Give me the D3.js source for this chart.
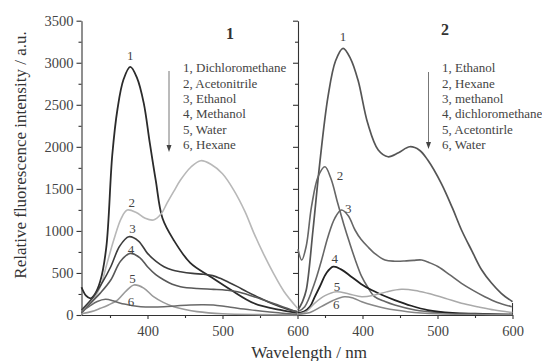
<!DOCTYPE html>
<html><head><meta charset="utf-8">
<script src="https://cdn.jsdelivr.net/npm/d3@7"></script>
<style>body{margin:0;background:#fff}svg{display:block}text{font-family:"Liberation Serif","Times New Roman",serif}</style>
</head><body><svg id="c" width="542" height="361"></svg>
<script>
// ---- Data ----
const yTicks = [0, 500, 1000, 1500, 2000, 2500, 3000, 3500];
const xTicks = [400, 500, 600];
const legend1 = ["1, Dichloromethane", "2, Acetonitrile", "3, Ethanol", "4, Methanol", "5, Water", "6, Hexane"];
const legend2 = ["1, Ethanol", "2, Hexane", "3, methanol", "4, dichloromethane", "5, Acetontirle", "6, Water"];

// Panel 1
const p1c1Wl = [312, 318, 324, 330, 337, 345, 353, 360, 368, 377, 386, 395, 403, 411, 420, 435, 457, 484, 511, 542, 577, 600];
const p1c1 =   [330, 230, 198, 250, 400, 800, 1900, 2450, 2800, 2950, 2820, 2520, 2050, 1600, 1150, 890, 620, 456, 300, 140, 60, 25];
const p1c2Wl = [312, 325, 337, 345, 355, 365, 373, 385, 397, 408, 418, 426, 435, 444, 458, 471, 485, 500, 515, 530, 542, 555, 568, 582, 600];
const p1c2 =   [60, 150, 336, 580, 892, 1150, 1248, 1220, 1150, 1130, 1200, 1330, 1470, 1605, 1760, 1835, 1790, 1680, 1486, 1230, 971, 720, 495, 280, 80];
const p1c3Wl = [312, 328, 340, 351, 363, 375, 388, 400, 411, 422, 433, 444, 460, 475, 487, 497, 508, 520, 533, 546, 561, 577, 590, 600];
const p1c3 =   [60, 218, 390, 574, 820, 931, 880, 733, 640, 574, 535, 515, 495, 484, 468, 436, 390, 337, 275, 218, 155, 99, 60, 40];
const p1c4Wl = [312, 324, 337, 351, 364, 377, 390, 400, 411, 422, 433, 444, 466, 488, 505, 520, 538, 555, 570, 586, 600];
const p1c4 =   [20, 139, 260, 416, 640, 733, 680, 574, 480, 416, 365, 337, 315, 305, 295, 277, 230, 178, 130, 79, 30];
const p1c5Wl = [312, 325, 337, 348, 360, 372, 382, 395, 408, 421, 435, 450, 466, 500, 550, 600];
const p1c5 =   [15, 40, 79, 120, 178, 290, 357, 320, 218, 150, 99, 65, 40, 15, 5, 2];
const p1c6Wl = [312, 322, 333, 344, 354, 364, 378, 391, 406, 422, 440, 457, 472, 488, 504, 520, 540, 560, 580, 600];
const p1c6 =   [40, 100, 160, 186, 170, 139, 115, 99, 95, 99, 110, 119, 122, 119, 100, 79, 58, 40, 22, 10];

// Panel 2
const p2c1Wl = [314, 320, 325, 334, 343, 354, 364, 374, 384, 394, 407, 421, 434, 448, 463, 476, 487, 505, 520, 532, 546, 559, 572, 585, 600];
const p2c1 =   [60, 160, 297, 1011, 1804, 2596, 3020, 3171, 3050, 2794, 2279, 1962, 1882, 1930, 2001, 1960, 1843, 1566, 1270, 1011, 760, 535, 380, 258, 158];
const p2c2Wl = [314, 319, 325, 332, 341, 350, 358, 367, 375, 383, 391, 399, 407, 416, 430, 443, 470, 500, 550, 600];
const p2c2 =   [780, 654, 820, 1288, 1650, 1763, 1620, 1328, 1080, 852, 640, 456, 330, 218, 160, 119, 60, 30, 12, 5];
const p2c3Wl = [314, 323, 336, 345, 354, 363, 372, 381, 390, 398, 407, 418, 430, 443, 456, 468, 479, 490, 501, 516, 532, 548, 563, 580, 599];
const p2c3 =   [40, 99, 377, 640, 931, 1150, 1248, 1180, 1011, 900, 812, 720, 654, 640, 642, 650, 654, 620, 574, 480, 377, 290, 218, 150, 99];
const p2c4Wl = [314, 322, 330, 336, 343, 352, 361, 372, 385, 398, 412, 427, 443, 465, 487, 520, 550, 600];
const p2c4 =   [20, 40, 99, 210, 336, 500, 574, 540, 456, 370, 297, 235, 178, 110, 59, 25, 15, 5];
const p2c5Wl = [314, 325, 336, 350, 365, 382, 399, 415, 432, 452, 470, 487, 510, 532, 555, 576, 600];
const p2c5 =   [10, 40, 139, 230, 277, 250, 218, 235, 275, 305, 292, 258, 200, 139, 95, 59, 30];
const p2c6Wl = [314, 330, 345, 360, 376, 388, 399, 414, 430, 460, 500, 550, 600];
const p2c6 =   [10, 30, 99, 170, 218, 200, 158, 115, 79, 40, 15, 8, 5];

// ---- Chart ----
const svg = d3.select("#c");
const y = d3.scaleLinear().domain([0, 3500]).range([315, 20.7]);
const xL = d3.scaleLinear().domain([312, 600]).range([81.5, 297.5]);
const xR = d3.scaleLinear().domain([314, 600]).range([298, 512.5]);

const axisColor = "#333", labelColor = "#444";
const minorY = d3.range(250, 3500, 500);
const minorX = [350, 450, 550];
const fmt = d3.format("d");

function styleAxis(g) {
  g.attr("font-family", null);
  g.selectAll("path,line").attr("stroke", axisColor).attr("stroke-width", 1.1);
  g.selectAll("text").attr("fill", labelColor).style("font-family", '"Liberation Serif",serif').style("font-size", "14.5px");
}

// left y axis
svg.append("g").attr("transform", "translate(81.5,0)")
  .call(d3.axisLeft(y).tickValues(yTicks).tickFormat(fmt).tickSize(5).tickSizeOuter(0).tickPadding(3))
  .call(styleAxis);
svg.append("g").attr("transform", "translate(81.5,0)")
  .call(d3.axisLeft(y).tickValues(minorY).tickSize(3).tickFormat(""))
  .call(g => g.select(".domain").remove()).call(styleAxis);
// divider axis (shared)
svg.append("g").attr("transform", "translate(298,0)")
  .call(d3.axisLeft(y).tickValues(yTicks).tickSize(5).tickSizeOuter(0).tickFormat(""))
  .call(styleAxis);
svg.append("g").attr("transform", "translate(298,0)")
  .call(d3.axisLeft(y).tickValues(minorY).tickSize(3).tickFormat(""))
  .call(g => g.select(".domain").remove()).call(styleAxis);

// bottom axes
function bottom(x) {
  svg.append("g").attr("transform", "translate(0,315)")
    .call(d3.axisBottom(x).tickValues(xTicks).tickFormat(fmt).tickSize(4).tickSizeOuter(0).tickPadding(7))
    .call(styleAxis);
  svg.append("g").attr("transform", "translate(0,315)")
    .call(d3.axisBottom(x).tickValues(minorX).tickSize(3).tickFormat(""))
    .call(g => g.select(".domain").remove()).call(styleAxis);
}
bottom(xL); bottom(xR);
// small right-end stub
svg.append("line").attr("x1", xR(600)).attr("x2", xR(600)).attr("y1", 303).attr("y2", 315)
  .attr("stroke", axisColor).attr("stroke-width", 1.1);

// curves
const curves = [
  {x: xL, wl: p1c1Wl, v: p1c1, c: "#2b2b2b", w: 1.8},
  {x: xL, wl: p1c2Wl, v: p1c2, c: "#b8b8b8", w: 1.6},
  {x: xL, wl: p1c3Wl, v: p1c3, c: "#3d3d3d", w: 1.6},
  {x: xL, wl: p1c4Wl, v: p1c4, c: "#585858", w: 1.6},
  {x: xL, wl: p1c5Wl, v: p1c5, c: "#9a9a9a", w: 1.6},
  {x: xL, wl: p1c6Wl, v: p1c6, c: "#6a6a6a", w: 1.5},
  {x: xR, wl: p2c1Wl, v: p2c1, c: "#555", w: 1.7},
  {x: xR, wl: p2c2Wl, v: p2c2, c: "#666", w: 1.6},
  {x: xR, wl: p2c3Wl, v: p2c3, c: "#666", w: 1.6},
  {x: xR, wl: p2c4Wl, v: p2c4, c: "#222", w: 1.8},
  {x: xR, wl: p2c5Wl, v: p2c5, c: "#aaa", w: 1.5},
  {x: xR, wl: p2c6Wl, v: p2c6, c: "#888", w: 1.5}
];
curves.forEach(s => {
  const line = d3.line().x(d => s.x(d[0])).y(d => y(d[1])).curve(d3.curveCatmullRom.alpha(0.5));
  svg.append("path").datum(d3.zip(s.wl, s.v)).attr("d", line)
    .attr("fill", "none").attr("stroke", s.c).attr("stroke-width", s.w).attr("stroke-linejoin", "round");
});

// curve number labels (placed at wavelength/value positions)
const lab1 = [[377, 3070], [379, 1320], [380, 1010], [378, 760], [380, 420], [378, 145]];
const lab2 = [[374, 3290], [370, 1640], [381, 1250], [363, 655], [366, 315], [365, 105]];
function numLabels(x, arr) {
  svg.append("g").selectAll("text").data(arr).join("text")
    .attr("x", d => x(d[0])).attr("y", d => y(d[1]))
    .attr("text-anchor", "middle").attr("dominant-baseline", "middle")
    .attr("fill", labelColor).style("font-size", "13px").text((d, i) => i + 1);
}
numLabels(xL, lab1); numLabels(xR, lab2);

// legends
function legend(x0, items, ax, ay0, ay1) {
  svg.append("g").selectAll("text").data(items).join("text")
    .attr("x", x0).attr("y", (d, i) => 69.5 + i * 15.3)
    .attr("dominant-baseline", "middle").attr("fill", labelColor)
    .style("font-size", "13px").text(d => d);
  svg.append("line").attr("x1", ax).attr("x2", ax).attr("y1", ay0).attr("y2", ay1 - 5)
    .attr("stroke", "#777").attr("stroke-width", 1);
  svg.append("path").attr("d", `M${ax - 2.5},${ay1 - 7}L${ax + 2.5},${ay1 - 7}L${ax},${ay1}Z`).attr("fill", "#444");
}
legend(183, legend1, 169, 71, 152);
legend(442, legend2, 428.5, 72, 149);

// panel labels
svg.append("text").attr("x", 230).attr("y", 35).attr("text-anchor", "middle").attr("dominant-baseline", "middle")
  .attr("fill", "#333").style("font-size", "16px").style("font-weight", "bold").text("1");
svg.append("text").attr("x", 445).attr("y", 31).attr("text-anchor", "middle").attr("dominant-baseline", "middle")
  .attr("fill", "#333").style("font-size", "16px").style("font-weight", "bold").text("2");

// axis titles
svg.append("text").attr("x", 309).attr("y", 358).attr("text-anchor", "middle")
  .attr("fill", "#333").style("font-size", "17px").text("Wavelength / nm");
svg.append("text").attr("transform", "translate(26,155) rotate(-90)").attr("text-anchor", "middle")
  .attr("fill", "#333").style("font-size", "17px").text("Relative fluorescence intensity / a.u.");
</script></body></html>
